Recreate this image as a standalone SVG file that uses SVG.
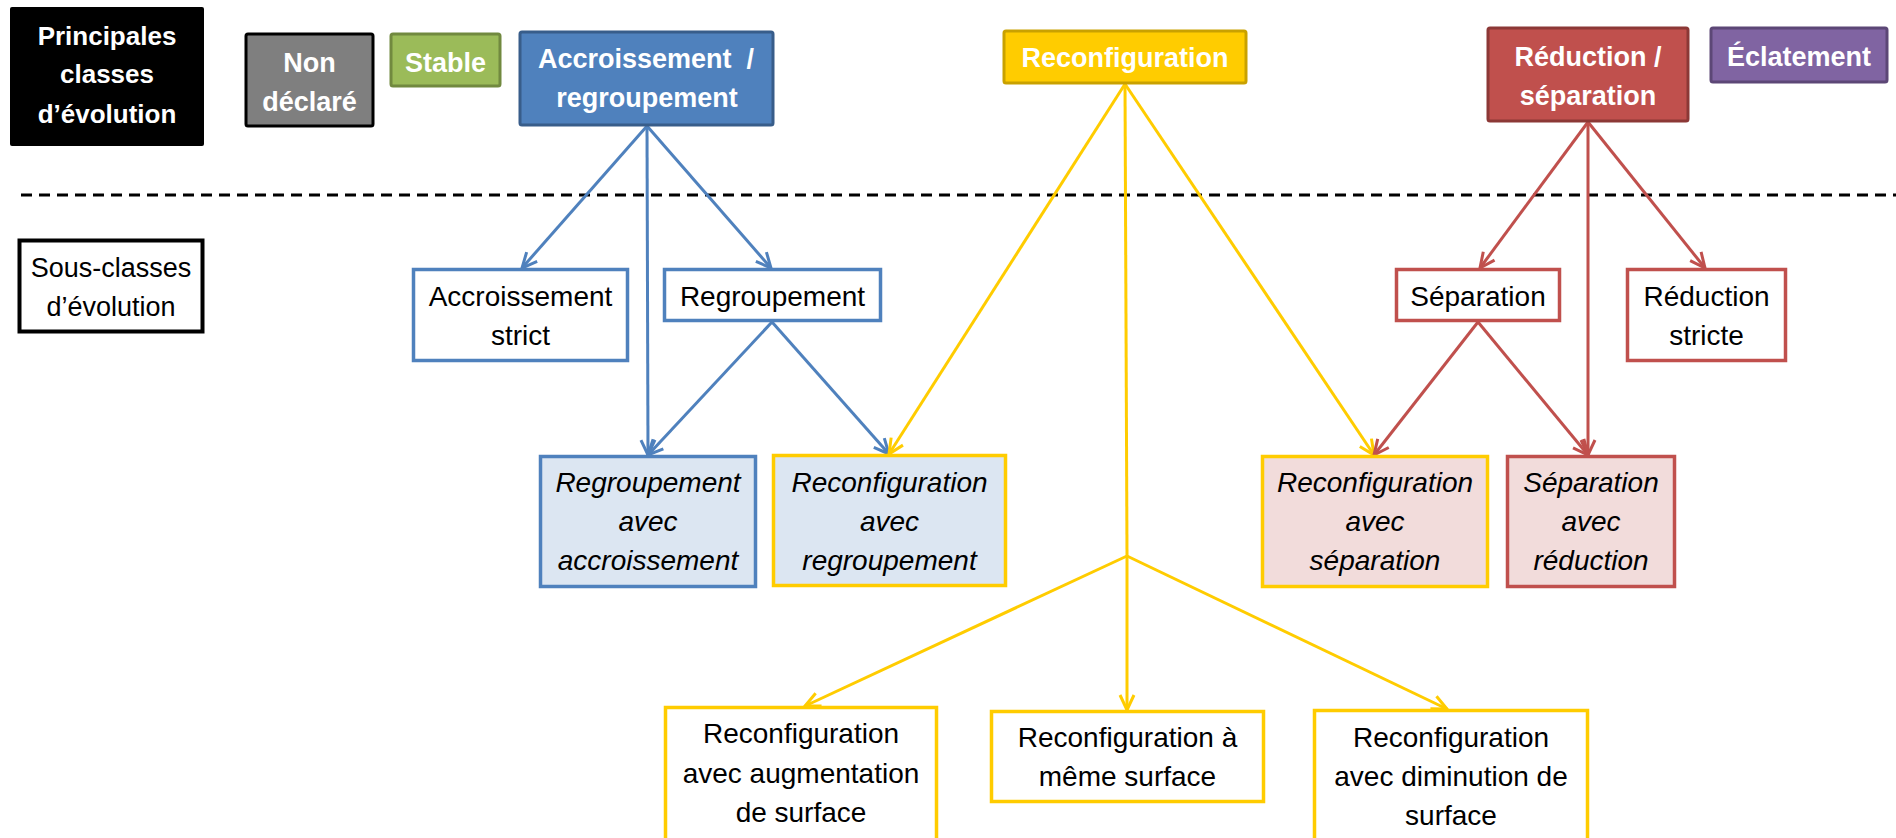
<svg xmlns="http://www.w3.org/2000/svg" width="1896" height="838" viewBox="0 0 1896 838">
<defs>
<style>
text{font-family:"Liberation Sans",Arial,sans-serif;text-anchor:middle}
.h{font-size:27px;font-weight:bold;fill:#fff}
.s{font-size:28px;fill:#000}
.i{font-size:28px;font-style:italic;fill:#000}
.hb{stroke-width:3}
.nb{stroke-width:3.5}
.cb{fill:none;stroke:#4F81BD;stroke-width:3}
.cy{fill:none;stroke:#FFCC00;stroke-width:3}
.cr{fill:none;stroke:#C0504D;stroke-width:3}
</style>
<marker id="ab" markerUnits="userSpaceOnUse" markerWidth="20" markerHeight="20" viewBox="-17 -10 20 20" refX="0" refY="0" orient="auto"><path d="M-15,-7 L0,0 L-15,7" fill="none" stroke="#4F81BD" stroke-width="3"/></marker>
<marker id="ay" markerUnits="userSpaceOnUse" markerWidth="20" markerHeight="20" viewBox="-17 -10 20 20" refX="0" refY="0" orient="auto"><path d="M-15,-7 L0,0 L-15,7" fill="none" stroke="#FFCC00" stroke-width="3"/></marker>
<marker id="ar" markerUnits="userSpaceOnUse" markerWidth="20" markerHeight="20" viewBox="-17 -10 20 20" refX="0" refY="0" orient="auto"><path d="M-15,-7 L0,0 L-15,7" fill="none" stroke="#C0504D" stroke-width="3"/></marker>
</defs>
<rect width="1896" height="838" fill="#fff"/>
<line x1="21" y1="195" x2="1896" y2="195" stroke="#000" stroke-width="3" stroke-dasharray="11 7"/>

<g id="connectors">
<line class="cb" x1="647" y1="126" x2="522" y2="268" marker-end="url(#ab)"/>
<line class="cb" x1="647" y1="126" x2="771" y2="268" marker-end="url(#ab)"/>
<line class="cb" x1="647" y1="126" x2="648" y2="455" marker-end="url(#ab)"/>
<line class="cb" x1="772" y1="322" x2="648" y2="455" marker-end="url(#ab)"/>
<line class="cb" x1="772" y1="322" x2="889" y2="454" marker-end="url(#ab)"/>
<line class="cy" x1="1125" y1="84" x2="889" y2="454" marker-end="url(#ay)"/>
<line class="cy" x1="1125" y1="84" x2="1374" y2="455" marker-end="url(#ay)"/>
<line class="cy" x1="1125" y1="84" x2="1127" y2="556"/>
<line class="cy" x1="1127" y1="556" x2="805" y2="706" marker-end="url(#ay)"/>
<line class="cy" x1="1127" y1="556" x2="1127" y2="710" marker-end="url(#ay)"/>
<line class="cy" x1="1127" y1="556" x2="1447" y2="709" marker-end="url(#ay)"/>
<line class="cr" x1="1588" y1="122" x2="1480" y2="268" marker-end="url(#ar)"/>
<line class="cr" x1="1588" y1="122" x2="1705" y2="268" marker-end="url(#ar)"/>
<line class="cr" x1="1588" y1="122" x2="1588" y2="455" marker-end="url(#ar)"/>
<line class="cr" x1="1478" y1="322" x2="1374" y2="455" marker-end="url(#ar)"/>
<line class="cr" x1="1478" y1="322" x2="1588" y2="455" marker-end="url(#ar)"/>
</g>

<g id="principales">
<rect x="10" y="7" width="194" height="139" rx="2" fill="#000"/>
<text class="h" font-size="26" x="107" y="45" style="font-size:26px">Principales</text>
<text class="h" x="107" y="83" style="font-size:26px">classes</text>
<text class="h" x="107" y="123" style="font-size:26px">d’évolution</text>
</g>
<g id="non-declare">
<rect class="hb" x="246" y="34" width="127" height="92" rx="2" fill="#7F7F7F" stroke="#000"/>
<text class="h" x="309.5" y="72">Non</text>
<text class="h" x="309.5" y="111">déclaré</text>
</g>
<g id="stable">
<rect class="hb" x="391" y="34" width="109" height="52" rx="2" fill="#9BBB59" stroke="#71893F"/>
<text class="h" x="445.5" y="72">Stable</text>
</g>
<g id="accroissement-regroupement">
<rect class="hb" x="520" y="32" width="253" height="93" rx="2" fill="#4F81BD" stroke="#385D8A"/>
<text class="h" x="646" y="68" xml:space="preserve">Accroissement  /</text>
<text class="h" x="647" y="107">regroupement</text>
</g>
<g id="reconfiguration">
<rect class="hb" x="1004" y="31" width="242" height="52" rx="2" fill="#FFCC00" stroke="#C9A100"/>
<text class="h" x="1125" y="67">Reconfiguration</text>
</g>
<g id="reduction-separation">
<rect class="hb" x="1488" y="28" width="200" height="93" rx="2" fill="#C0504D" stroke="#8C3836"/>
<text class="h" x="1588" y="66">Réduction /</text>
<text class="h" x="1588" y="105">séparation</text>
</g>
<g id="eclatement">
<rect class="hb" x="1711" y="28" width="176" height="54" rx="2" fill="#8064A2" stroke="#5C4776"/>
<text class="h" x="1799" y="66">Éclatement</text>
</g>

<g id="sous-classes">
<rect x="19.5" y="240.5" width="183" height="91" fill="#fff" stroke="#000" stroke-width="4"/>
<text class="s" x="111" y="277" style="font-size:27px">Sous-classes</text>
<text class="s" x="111" y="316" style="font-size:27px">d’évolution</text>
</g>
<g id="accroissement-strict">
<rect class="nb" x="413.5" y="269.5" width="214" height="91" fill="#fff" stroke="#4F81BD"/>
<text class="s" x="520.5" y="306">Accroissement</text>
<text class="s" x="520.5" y="345">strict</text>
</g>
<g id="regroupement">
<rect class="nb" x="664.5" y="269.5" width="216" height="51" fill="#fff" stroke="#4F81BD"/>
<text class="s" x="772.5" y="306">Regroupement</text>
</g>
<g id="separation">
<rect class="nb" x="1396.5" y="269.5" width="163" height="51" fill="#fff" stroke="#C0504D"/>
<text class="s" x="1478" y="306">Séparation</text>
</g>
<g id="reduction-stricte">
<rect class="nb" x="1627.5" y="269.5" width="158" height="91" fill="#fff" stroke="#C0504D"/>
<text class="s" x="1706.5" y="306">Réduction</text>
<text class="s" x="1706.5" y="345">stricte</text>
</g>

<g id="regroupement-avec-accroissement">
<rect class="nb" x="540.5" y="456.5" width="215" height="130" fill="#DCE6F2" stroke="#4F81BD"/>
<text class="i" x="648" y="492">Regroupement</text>
<text class="i" x="648" y="531">avec</text>
<text class="i" x="648" y="570">accroissement</text>
</g>
<g id="reconfiguration-avec-regroupement">
<rect class="nb" x="773.5" y="455.5" width="232" height="130" fill="#DCE6F2" stroke="#FFCC00"/>
<text class="i" x="889.5" y="492">Reconfiguration</text>
<text class="i" x="889.5" y="531">avec</text>
<text class="i" x="889.5" y="570">regroupement</text>
</g>
<g id="reconfiguration-avec-separation">
<rect class="nb" x="1262.5" y="456.5" width="225" height="130" fill="#F2DCDB" stroke="#FFCC00"/>
<text class="i" x="1375" y="492">Reconfiguration</text>
<text class="i" x="1375" y="531">avec</text>
<text class="i" x="1375" y="570">séparation</text>
</g>
<g id="separation-avec-reduction">
<rect class="nb" x="1507.5" y="456.5" width="167" height="130" fill="#F2DCDB" stroke="#C0504D"/>
<text class="i" x="1591" y="492">Séparation</text>
<text class="i" x="1591" y="531">avec</text>
<text class="i" x="1591" y="570">réduction</text>
</g>

<g id="reconfiguration-augmentation">
<rect class="nb" x="665.5" y="707.5" width="271" height="140" fill="#fff" stroke="#FFCC00"/>
<text class="s" x="801" y="743">Reconfiguration</text>
<text class="s" x="801" y="783">avec augmentation</text>
<text class="s" x="801" y="822">de surface</text>
</g>
<g id="reconfiguration-meme-surface">
<rect class="nb" x="991.5" y="711.5" width="272" height="90" fill="#fff" stroke="#FFCC00"/>
<text class="s" x="1127.5" y="747">Reconfiguration à</text>
<text class="s" x="1127.5" y="786">même surface</text>
</g>
<g id="reconfiguration-diminution">
<rect class="nb" x="1314.5" y="710.5" width="273" height="140" fill="#fff" stroke="#FFCC00"/>
<text class="s" x="1451" y="747">Reconfiguration</text>
<text class="s" x="1451" y="786">avec diminution de</text>
<text class="s" x="1451" y="825">surface</text>
</g>
</svg>
